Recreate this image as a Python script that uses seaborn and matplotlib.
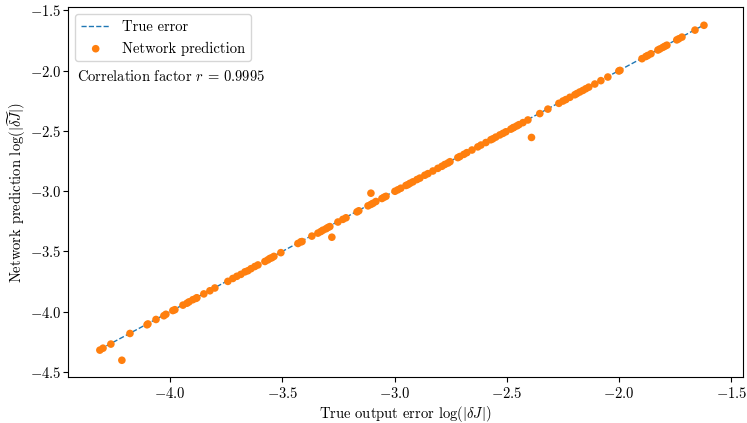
import numpy as np
import pandas as pd
import seaborn as sns
from matplotlib import pyplot as plt

# values
true_err = [
    -4.312, -4.298, -4.263, -4.214, -4.178, -4.102, -4.098, -4.062, -4.027, -4.018,
    -3.987, -3.978, -3.942, -3.924, -3.915, -3.898, -3.884, -3.880, -3.849, -3.822,
    -3.800, -3.742, -3.720, -3.702, -3.684, -3.666, -3.653, -3.639, -3.622, -3.608,
    -3.577, -3.564, -3.555, -3.546, -3.537, -3.506, -3.430, -3.417, -3.412, -3.368,
    -3.341, -3.328, -3.319, -3.305, -3.297, -3.288, -3.279, -3.252, -3.230, -3.216,
    -3.167, -3.159, -3.118, -3.105, -3.105, -3.096, -3.083, -3.056, -3.047, -3.038,
    -2.998, -2.985, -2.972, -2.949, -2.940, -2.931, -2.918, -2.900, -2.887, -2.865,
    -2.851, -2.829, -2.807, -2.789, -2.776, -2.762, -2.753, -2.718, -2.709, -2.691,
    -2.678, -2.655, -2.629, -2.615, -2.593, -2.571, -2.562, -2.549, -2.531, -2.517,
    -2.504, -2.482, -2.473, -2.468, -2.455, -2.446, -2.428, -2.390, -2.406, -2.353,
    -2.317, -2.268, -2.250, -2.237, -2.219, -2.197, -2.188, -2.175, -2.161, -2.148,
    -2.135, -2.108, -2.081, -2.050, -2.001, -1.996, -1.898, -1.881, -1.872, -1.858,
    -1.827, -1.818, -1.805, -1.796, -1.787, -1.743, -1.734, -1.720, -1.662, -1.622,
]
predicted = [
    -4.318, -4.302, -4.268, -4.402, -4.180, -4.108, -4.101, -4.064, -4.033, -4.021,
    -3.990, -3.983, -3.945, -3.929, -3.918, -3.900, -3.889, -3.884, -3.852, -3.826,
    -3.803, -3.748, -3.724, -3.706, -3.690, -3.669, -3.660, -3.643, -3.625, -3.612,
    -3.583, -3.570, -3.558, -3.552, -3.541, -3.510, -3.434, -3.420, -3.418, -3.373,
    -3.348, -3.335, -3.324, -3.312, -3.302, -3.294, -3.382, -3.256, -3.234, -3.221,
    -3.172, -3.163, -3.122, -3.110, -3.017, -3.101, -3.086, -3.061, -3.051, -3.043,
    -3.001, -2.989, -2.976, -2.953, -2.946, -2.935, -2.923, -2.904, -2.892, -2.868,
    -2.855, -2.833, -2.811, -2.794, -2.779, -2.767, -2.756, -2.722, -2.713, -2.695,
    -2.681, -2.659, -2.633, -2.618, -2.597, -2.574, -2.566, -2.552, -2.534, -2.521,
    -2.508, -2.486, -2.476, -2.471, -2.459, -2.449, -2.432, -2.555, -2.410, -2.357,
    -2.320, -2.272, -2.253, -2.241, -2.222, -2.201, -2.191, -2.178, -2.165, -2.151,
    -2.138, -2.112, -2.084, -2.054, -2.004, -1.999, -1.902, -1.884, -1.875, -1.861,
    -1.830, -1.821, -1.808, -1.799, -1.790, -1.746, -1.737, -1.723, -1.665, -1.625,
]
corr_r = 0.9995

df = pd.DataFrame({"true": true_err, "pred": predicted})
line_df = pd.DataFrame({"x": [min(true_err), max(true_err)]})

plt.rcParams["font.family"] = "serif"
plt.rcParams["font.serif"] = ["cmr10"]
plt.rcParams["mathtext.fontset"] = "cm"
plt.rcParams["axes.formatter.use_mathtext"] = True
plt.rcParams["font.size"] = 10.5
plt.rcParams["xtick.major.pad"] = 3
plt.rcParams["ytick.major.pad"] = 1.5

fig = plt.figure(figsize=(7.47, 4.23), dpi=100)
ax = fig.add_axes([0.091, 0.109, 0.904, 0.874])

sns.lineplot(x="x", y="x", data=line_df, ax=ax, color="#1f77b4",
             linestyle="--", linewidth=1, label="True error")
sns.scatterplot(x="true", y="pred", data=df, ax=ax, color="#ff7f0e",
                s=30, edgecolor="none", label="Network prediction", zorder=3)

ax.set_xlim(-4.454, -1.447)
ax.set_ylim(-4.54, -1.475)
ax.set_xlabel(r"True output error $\log(|\delta J|)$", labelpad=2)
ax.set_ylabel(r"Network prediction $\log(|\widetilde{\delta J}|)$")
ax.yaxis.set_label_coords(-0.059, 0.5)
ax.text(0.013, 0.80, r"Correlation factor $r$ = %.4f" % corr_r, transform=ax.transAxes)
ax.legend(loc="upper left", borderaxespad=0.5)

fig.savefig("out.png", dpi=100)
